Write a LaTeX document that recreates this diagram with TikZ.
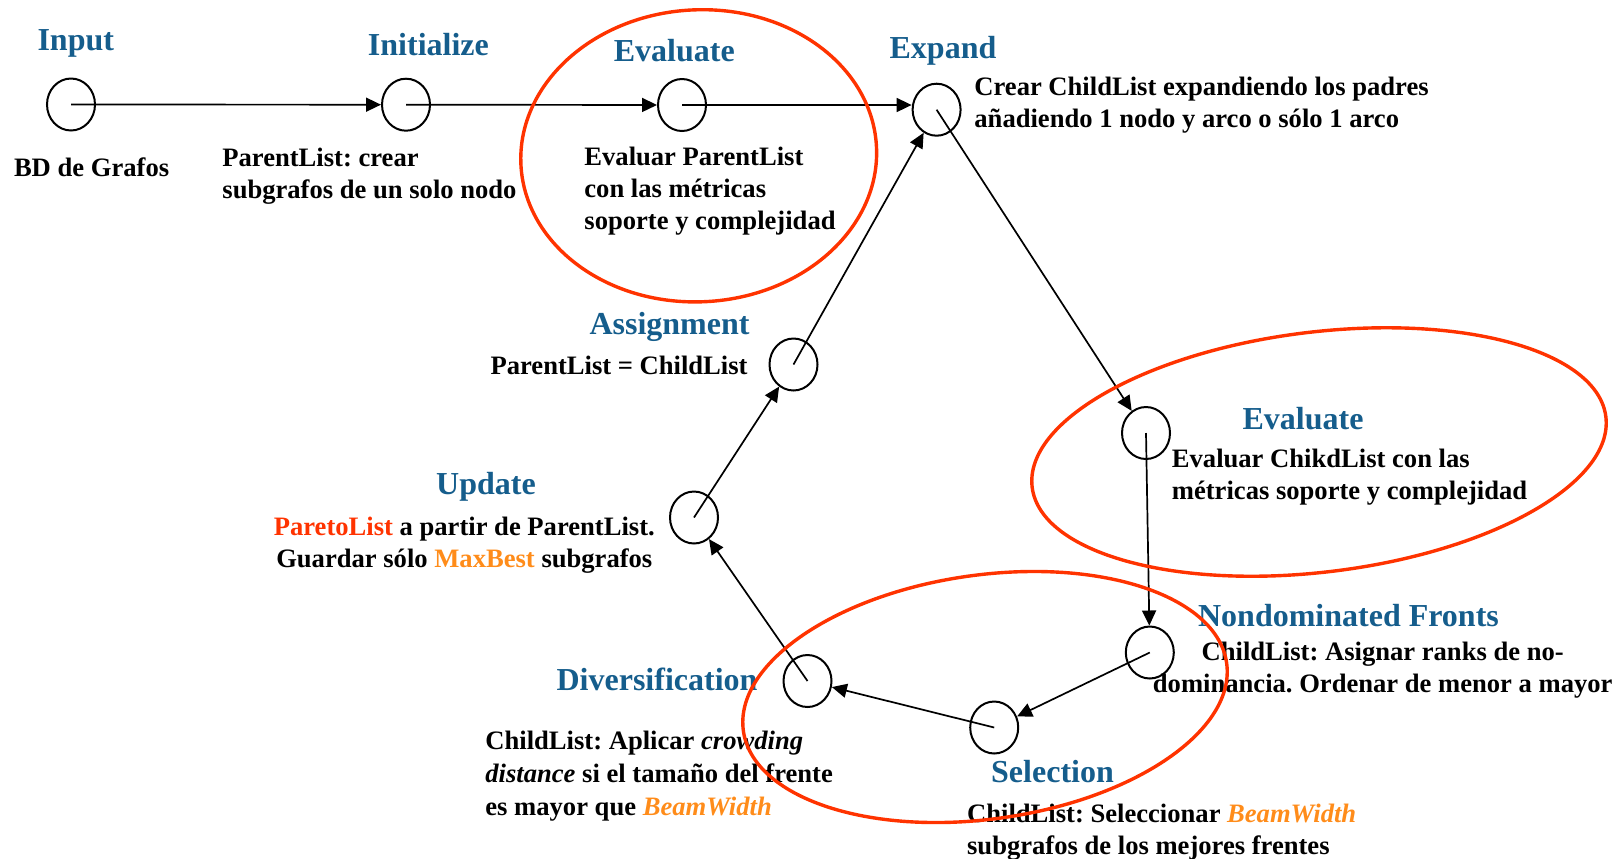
\documentclass[tikz,border=0pt]{standalone}
\usepackage{fontspec}
\setmainfont{Liberation Serif}
\usepackage{xcolor}
\usetikzlibrary{arrows.meta, shapes.geometric}
\frenchspacing

\definecolor{stageblue}{RGB}{21,93,140}
\definecolor{ringred}{RGB}{255,51,0}
\definecolor{beamorange}{RGB}{255,140,26}

\begin{document}
\begin{tikzpicture}[x=0.5pt, y=-0.5pt,
    stage/.style = {draw, line width=1pt, ellipse, minimum width=24pt, minimum height=26pt, inner sep=0pt},
    phase/.style = {anchor=base, text=stageblue, inner sep=0pt, font=\fontsize{16}{19}\selectfont\bfseries},
    info/.style = {inner sep=0pt, font=\fontsize{13.3}{16}\selectfont\bfseries},
    flow/.style = {line width=0.85pt, -{Triangle[length=7.5pt, width=7pt]}},
    ring/.style = {draw=ringred, line width=1.7pt}]

    \useasboundingbox (0,0) rectangle (1621,858);

    % Stages
    \node[stage] (input)  at (71,104.5) {};
    \node[stage] (init)   at (406,104.7) {};
    \node[stage] (evalp)  at (682,105) {};
    \node[stage] (expand) at (936.6,109.7) {};
    \node[stage] (evalc)  at (1146,433) {};
    \node[stage] (fronts) at (1149.8,652.5) {};
    \node[stage] (select) at (994.2,727.5) {};
    \node[stage] (divers) at (807.5,681) {};
    \node[stage] (update) at (694,517.5) {};
    \node[stage] (assign) at (793.5,364.5) {};

    % Titles
    \node[phase] (tInput)  at (75.8,50) {Input};
    \node[phase] (tInit)   at (428.4,55) {Initialize};
    \node[phase] (tEvalP)  at (674.3,61) {Evaluate};
    \node[phase] (tExpand) at (943,58.5) {Expand};
    \node[phase] (tAssign) at (669.5,334) {Assignment};
    \node[phase] (tUpdate) at (486,494.5) {Update};
    \node[phase] (tDivers) at (657,690) {Diversification};
    \node[phase] (tSelect) at (1052.5,782.7) {Selection};
    \node[phase] (tEvalC)  at (1303,429) {Evaluate};
    \node[phase] (tFronts) at (1348.5,626) {Nondominated Fronts};

    % Descriptions
    \node[info, anchor=base west] (dInput) at (13.6,176.5) {BD de Grafos};
    \node[info, anchor=north west, align=left] (dInit) at (222,147.7)
        {ParentList: crear\\subgrafos de un solo nodo};
    \node[info, anchor=north west, align=left] (dEvalP) at (584,147)
        {Evaluar ParentList\\con las métricas\\soporte y complejidad};
    \node[info, anchor=north west, align=left] (dExpand) at (974,77)
        {Crear ChildList expandiendo los padres\\añadiendo 1 nodo y arco o sólo 1 arco};
    \node[info, anchor=base east] (dAssign) at (748,374.5) {ParentList = ChildList};
    \node[info, anchor=north, align=center] (dUpdate) at (464.3,517)
        {\textcolor{ringred}{ParetoList} a partir de ParentList.\\Guardar sólo \textcolor{beamorange}{MaxBest} subgrafos};
    \node[info, anchor=north west, align=left] (dEvalC) at (1171.5,448.7)
        {Evaluar ChikdList con las\\métricas soporte y complejidad};
    \node[info, anchor=north, align=center] (dFronts) at (1382.7,642)
        {ChildList: Asignar ranks de no-\\dominancia. Ordenar de menor a mayor};
    \node[info, anchor=north west, align=left, font=\fontsize{13.3}{16.6}\selectfont\bfseries] (dDivers) at (485,730.3)
        {ChildList: Aplicar \textit{crowding}\\\textit{distance} si el tamaño del frente\\es mayor que \textit{\textcolor{beamorange}{BeamWidth}}};
    \node[info, anchor=north west, align=left] (dSelect) at (966.7,803.7)
        {ChildList: Seleccionar \textit{\textcolor{beamorange}{BeamWidth}}\\subgrafos de los mejores frentes};

    % Flow
    \draw[flow] (input.center) -- (init);
    \draw[flow] (init.center) -- (evalp);
    \draw[flow] (evalp.center) -- (evalp.center -| expand.west);
    \draw[flow] (expand.center) -- (evalc);
    \draw[flow] (evalc.center) -- (fronts);
    \draw[flow] (fronts.center) -- (select);
    \draw[flow] (select.center) -- (divers);
    \draw[flow] (divers.center) -- (update);
    \draw[flow] (update.center) -- (assign);
    \draw[flow] (assign.center) -- (expand);

    % Highlights
    \draw[ring, rotate around={3:(698.7,155.8)}] (698.7,155.8) ellipse (178 and 146);
    \draw[ring, rotate around={7:(1319,452)}] (1319,452) ellipse (289 and 120);
    \draw[ring, rotate around={8:(985,697)}] (985,697) ellipse (244 and 122);
\end{tikzpicture}
\end{document}
